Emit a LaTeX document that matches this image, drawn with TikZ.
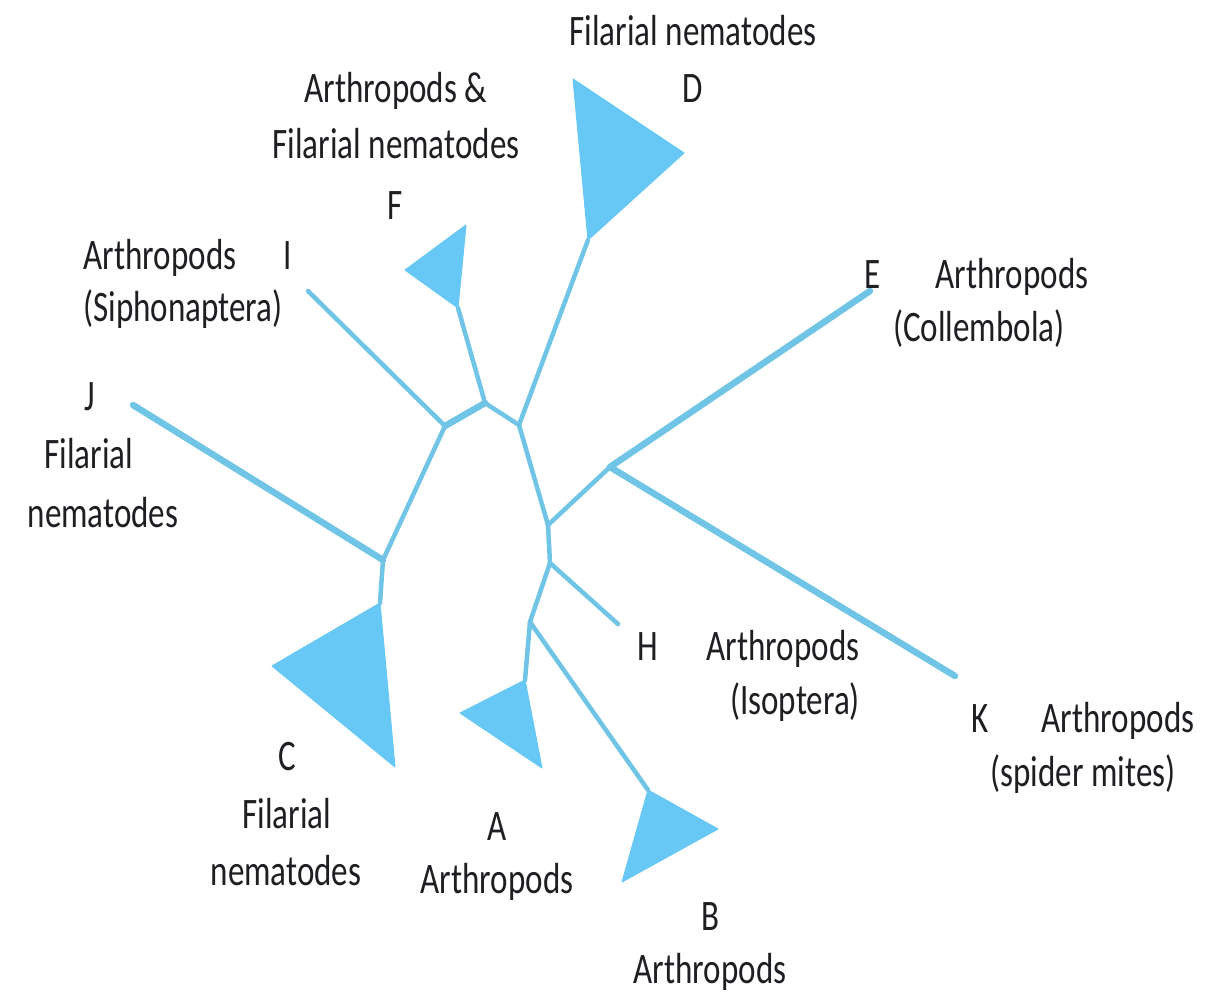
\documentclass[tikz,border=0pt]{standalone}
\usepackage{fontspec}
\setmainfont{Carlito}[FakeStretch=0.76]
\definecolor{branch}{RGB}{112,196,230}
\definecolor{clade}{RGB}{104,200,245}
\definecolor{ink}{RGB}{30,30,35}
\begin{document}
\begin{tikzpicture}[x=1pt,y=-1pt,
  lbl/.style={inner sep=0pt,anchor=base,text=ink,font=\fontsize{43.5}{52}\selectfont},
  br/.style={draw=branch,line width=4.5pt,line cap=round,line join=round},
  thick br/.style={draw=branch,line width=6.5pt,line cap=round},
  tri/.style={fill=clade,draw=clade,line width=1pt,line join=round}]
\useasboundingbox[fill=white] (0,0) rectangle (1208,1001);
% junctions
\coordinate (n1) at (445,426);
\coordinate (n2) at (485,403);
\coordinate (n3) at (519,425);
\coordinate (n4) at (548,525);
\coordinate (n5) at (550,563);
\coordinate (n6) at (383,560);
\coordinate (n7) at (530,622);
\coordinate (nE) at (610,467);
% tips
\coordinate (tI) at (308,291);
\coordinate (tJ) at (133,405);
\coordinate (tE) at (870,291);
\coordinate (tK) at (955,676);
\coordinate (tH) at (618,624);
\coordinate (tF) at (458,308);
\coordinate (tD) at (588,240);
\coordinate (tC) at (380,603);
\coordinate (tA) at (525,680);
\coordinate (tB) at (648,790);
% clades
\path[tri] (tF) -- (405,270) -- (466,225) -- cycle;
\path[tri] (tD) -- (573,79) -- (684,153) -- cycle;
\path[tri] (tC) -- (272,666) -- (395,767) -- cycle;
\path[tri] (tA) -- (460,713) -- (542,768) -- cycle;
\path[tri] (tB) -- (718,829) -- (622,882) -- cycle;
% branches
\draw[br] (n1) -- (tI);
\draw[thick br] (n1) -- (n2);
\draw[br] (n2) -- (tF);
\draw[br] (n2) -- (n3);
\draw[br] (n3) -- (tD);
\draw[br] (n1) -- (n6);
\draw[thick br] (n6) -- (tJ);
\draw[br] (n6) -- (tC);
\draw[br] (n3) -- (n4);
\draw[br] (n4) -- (nE);
\draw[thick br] (nE) -- (tE);
\draw[thick br] (nE) -- (tK);
\draw[br] (n4) -- (n5);
\draw[br] (n5) -- (tH);
\draw[br] (n5) -- (n7);
\draw[br] (n7) -- (tA);
\draw[br] (n7) -- (tB);
% labels
\node[lbl] (dname) at (693,45) {Filarial nematodes};
\node[lbl] (dlet) at (693,102) {D};
\node[lbl] (fname1) at (396,102) {Arthropods \&};
\node[lbl] (fname2) at (396,158) {Filarial nematodes};
\node[lbl] (flet) at (395,219) {F};
\node[lbl] (iname1) at (160,269) {Arthropods};
\node[lbl] (ilet) at (288,269) {I};
\node[lbl] (iname2) at (183,321) {(Siphonaptera)};
\node[lbl] (elet) at (873,288) {E};
\node[lbl] (ename1) at (1012,288) {Arthropods};
\node[lbl] (ename2) at (979,341) {(Collembola)};
\node[lbl] (jlet) at (90,410) {J};
\node[lbl] (jname1) at (89,468) {Filarial};
\node[lbl] (jname2) at (103,527) {nematodes};
\node[lbl] (hlet) at (648,660) {H};
\node[lbl] (hname1) at (783,660) {Arthropods};
\node[lbl] (hname2) at (795,714) {(Isoptera)};
\node[lbl] (klet) at (980,732) {K};
\node[lbl] (kname1) at (1118,732) {Arthropods};
\node[lbl] (kname2) at (1083,786) {(spider mites)};
\node[lbl] (clet) at (287,770) {C};
\node[lbl] (cname1) at (287,828) {Filarial};
\node[lbl] (cname2) at (286,885) {nematodes};
\node[lbl] (alet) at (497,840) {A};
\node[lbl] (aname) at (497,893) {Arthropods};
\node[lbl] (blet) at (710,930) {B};
\node[lbl] (bname) at (710,983) {Arthropods};
\end{tikzpicture}
\end{document}
